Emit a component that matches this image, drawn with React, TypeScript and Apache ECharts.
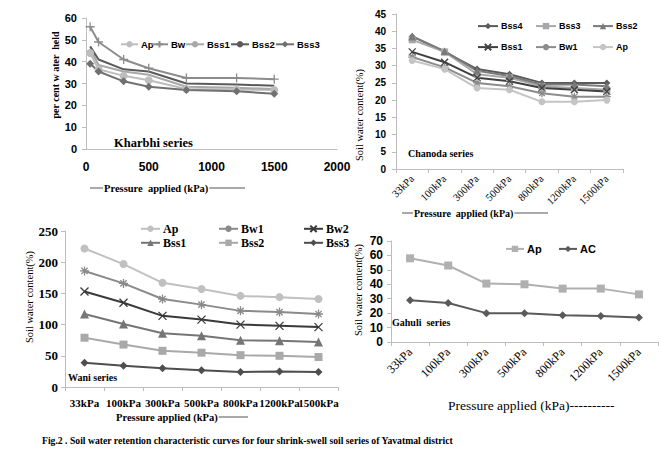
import React, { useEffect, useRef } from 'react';
import * as echarts from 'echarts';

const pressureLabels = ['33kPa', '100kPa', '300kPa', '500kPa', '800kPa', '1200kPa', '1500kPa'];
const kharbhiPressure = [33, 100, 300, 500, 800, 1200, 1500];
const kharbhiTicks = [0, 500, 1000, 1500, 2000];

const kharbhiAp = [44, 36.5, 33.5, 31.5, 27.5, 27.2, 27];
const kharbhiBw = [56, 49, 41, 37, 32.5, 32.5, 32];
const kharbhiBss1 = [46, 38.5, 35.5, 34, 28.5, 28, 27.5];
const kharbhiBss2 = [47, 41, 36.5, 35.5, 30, 29.5, 29];
const kharbhiBss3 = [39, 35.5, 31, 28.5, 27, 26.4, 25.3];

const chanodaBss4 = [38.5, 34, 29, 27.5, 25, 25, 25];
const chanodaBss3 = [37.5, 34, 27.5, 26.5, 24, 23.5, 23];
const chanodaBss2 = [38.5, 34.2, 28.5, 27, 24.5, 24.5, 24];
const chanodaBss1 = [34, 31, 26.5, 25.5, 23.5, 23, 22.5];
const chanodaBw1 = [32.5, 29.5, 25, 24, 22, 21, 21];
const chanodaAp = [31.5, 29, 23.5, 23, 19.5, 19.5, 20];

const waniAp = [222, 197, 167, 157, 146, 144, 141];
const waniBw1 = [186, 166, 141, 132, 122, 120, 117];
const waniBw2 = [153, 135, 114, 108, 100, 98, 96];
const waniBss1 = [117, 101, 86, 82, 75, 74, 72];
const waniBss2 = [79, 68, 58, 55, 51, 50, 48];
const waniBss3 = [39, 34, 30, 27, 24, 25, 24];

const gahuliAp = [58, 53, 40.5, 40, 37, 37, 33];
const gahuliAC = [29, 27, 20, 20, 18.5, 18, 17];

const SERIF = '"Liberation Serif", "Times New Roman", serif';
const SANS = '"Liberation Sans", Arial, sans-serif';
const X_SYM = 'path://M0,0L10,10M10,0L0,10';
const PLUS_SYM = 'path://M5,0L5,10M0,5L10,5';
const STAR_SYM = 'path://M5,0L5,10M0,5L10,5M1.5,1.5L8.5,8.5M8.5,1.5L1.5,8.5';
const AXIS_COLOR = '#bdbdbd';

function mk(name: string, data: any[], color: string, symbol: string, size: number, idx: number) {
  const isPath = symbol.startsWith('path');
  return {
    type: 'line',
    name,
    data,
    xAxisIndex: idx,
    yAxisIndex: idx,
    color,
    symbol,
    symbolSize: size,
    showSymbol: symbol !== 'none',
    lineStyle: { width: 2, color },
    itemStyle: { color, borderColor: color, borderWidth: isPath ? 1.3 : 0 },
    emphasis: { disabled: true },
  };
}

function leg(name: string, left: number, cy: number, font: any, itemWidth: number) {
  const fs = font.fontSize;
  return {
    data: [name],
    left,
    top: cy - fs * 0.6,
    padding: 0,
    itemWidth,
    itemHeight: 8,
    itemGap: 0,
    selectedMode: false,
    textStyle: { color: '#000', ...font, padding: [0, 0, 0, -2] },
  };
}

function vText(text: string, x: number, y: number, font: any) {
  return {
    type: 'text',
    x,
    y,
    rotation: Math.PI / 2,
    style: { text, align: 'center', verticalAlign: 'middle', fill: '#000', ...font },
  };
}

function hText(text: string, x: number, y: number, font: any, extra: any = {}) {
  return {
    type: 'text',
    x,
    y,
    style: { text, align: 'left', verticalAlign: 'middle', fill: '#000', ...font },
    ...extra,
  };
}

function hLine(x1: number, x2: number, y: number) {
  return {
    type: 'line',
    shape: { x1, y1: y, x2, y2: y },
    style: { stroke: '#555', lineWidth: 1.2 },
  };
}

function catAxis(grid: number, label: any) {
  return {
    type: 'category',
    gridIndex: grid,
    data: pressureLabels,
    boundaryGap: true,
    axisLine: { show: true, lineStyle: { color: AXIS_COLOR } },
    axisTick: { show: true, length: 4, lineStyle: { color: AXIS_COLOR } },
    splitLine: { show: false },
    axisLabel: { color: '#000', interval: 0, ...label },
  };
}

function valAxis(grid: number, max: number, interval: number, label: any) {
  return {
    type: 'value',
    gridIndex: grid,
    min: 0,
    max,
    interval,
    axisLine: { show: true, lineStyle: { color: AXIS_COLOR } },
    axisTick: { show: true, length: 4, lineStyle: { color: AXIS_COLOR } },
    splitLine: { show: false },
    axisLabel: { color: '#000', ...label },
  };
}

export default function App() {
  const ref = useRef<HTMLDivElement>(null);
  useEffect(() => {
    if (!ref.current) return;
    const chart = echarts.init(ref.current, null, { renderer: 'svg' });
    const pairs = (arr: number[]) => kharbhiPressure.map((p, i) => [p, arr[i]]);

    const kLeg = { fontFamily: SANS, fontWeight: 'bold', fontSize: 9.5 };
    const cLeg = { fontFamily: SANS, fontWeight: 'bold', fontSize: 9 };
    const wLeg = { fontFamily: SERIF, fontWeight: 'bold', fontSize: 12 };
    const gLeg = { fontFamily: SANS, fontWeight: 'bold', fontSize: 11 };

    const option: any = {
      animation: false,
      backgroundColor: '#fff',
      grid: [
        { left: 86, top: 18, width: 251, height: 131 },
        { left: 396, top: 14, width: 227, height: 155 },
        { left: 65, top: 231, width: 273, height: 156 },
        { left: 391, top: 241, width: 267, height: 101 },
      ],
      xAxis: [
        {
          type: 'value',
          gridIndex: 0,
          min: kharbhiTicks[0],
          max: kharbhiTicks[kharbhiTicks.length - 1],
          interval: 500,
          axisLine: { show: true, onZero: false, lineStyle: { color: AXIS_COLOR } },
          axisTick: { show: false },
          splitLine: { show: false },
          axisLabel: {
            color: '#000', fontFamily: SANS, fontWeight: 'bold', fontSize: 12, margin: 12,
            formatter: (v: number) => String(v),
          },
        },
        catAxis(1, { rotate: 45, fontFamily: SERIF, fontSize: 10.5, margin: 8 }),
        catAxis(2, { fontFamily: SERIF, fontWeight: 'bold', fontSize: 11, margin: 10 }),
        catAxis(3, { rotate: 45, fontFamily: SERIF, fontSize: 12, margin: 8 }),
      ],
      yAxis: [
        valAxis(0, 60, 10, { fontFamily: SANS, fontWeight: 'bold', fontSize: 11, margin: 9 }),
        valAxis(1, 45, 5, { fontFamily: SANS, fontWeight: 'bold', fontSize: 10, margin: 10 }),
        valAxis(2, 250, 50, { fontFamily: SERIF, fontWeight: 'bold', fontSize: 13, margin: 7 }),
        valAxis(3, 70, 10, { fontFamily: SANS, fontWeight: 'bold', fontSize: 12, margin: 8 }),
      ],
      legend: [
        leg('Ap', 120, 45, kLeg, 17),
        leg('Bw', 150, 45, kLeg, 17),
        leg('Bss1', 185, 45, kLeg, 18),
        leg('Bss2', 230, 45, kLeg, 18),
        leg('Bss3', 275, 45, kLeg, 18),

        leg('Bss4 ', 477, 27, cLeg, 20),
        leg('Bss3 ', 535, 27, cLeg, 20),
        leg('Bss2 ', 592, 27, cLeg, 20),
        leg('Bss1 ', 477, 48, cLeg, 20),
        leg('Bw1 ', 535, 48, cLeg, 20),
        leg('Ap ', 592, 48, cLeg, 20),

        leg('Ap  ', 140, 230, wLeg, 19),
        leg('Bw1  ', 218, 230, wLeg, 19),
        leg('Bw2  ', 303, 230, wLeg, 19),
        leg('Bss1  ', 140, 244, wLeg, 19),
        leg('Bss2  ', 218, 244, wLeg, 19),
        leg('Bss3  ', 303, 244, wLeg, 19),

        leg('Ap   ', 505, 250, gLeg, 18),
        leg('AC', 558, 250, gLeg, 18),
      ],
      series: [
        mk('Ap', pairs(kharbhiAp), '#bdbdbd', 'circle', 8, 0),
        mk('Bw', pairs(kharbhiBw), '#8c8c8c', PLUS_SYM, 9, 0),
        mk('Bss1', pairs(kharbhiBss1), '#a8a8a8', 'none', 6, 0),
        mk('Bss2', pairs(kharbhiBss2), '#5a5a5a', 'none', 6, 0),
        mk('Bss3', pairs(kharbhiBss3), '#707070', 'diamond', 8, 0),

        mk('Bss4 ', chanodaBss4, '#5a5a5a', 'diamond', 7, 1),
        mk('Bss3 ', chanodaBss3, '#a8a8a8', 'rect', 7, 1),
        mk('Bss2 ', chanodaBss2, '#7a7a7a', 'triangle', 8, 1),
        mk('Bss1 ', chanodaBss1, '#404040', X_SYM, 7, 1),
        mk('Bw1 ', chanodaBw1, '#8c8c8c', STAR_SYM, 8, 1),
        mk('Ap ', chanodaAp, '#c4c4c4', 'circle', 7, 1),

        mk('Ap  ', waniAp, '#c0c0c0', 'circle', 8, 2),
        mk('Bw1  ', waniBw1, '#8a8a8a', STAR_SYM, 9, 2),
        mk('Bw2  ', waniBw2, '#3a3a3a', X_SYM, 8, 2),
        mk('Bss1  ', waniBss1, '#767676', 'triangle', 9, 2),
        mk('Bss2  ', waniBss2, '#a9a9a9', 'rect', 8, 2),
        mk('Bss3  ', waniBss3, '#4e4e4e', 'diamond', 8, 2),

        mk('Ap   ', gahuliAp, '#b0b0b0', 'rect', 8, 3),
        mk('AC', gahuliAC, '#5a5a5a', 'diamond', 8, 3),
      ],
      graphic: [
        vText('per cent w ater  held', 55, 75, { fontFamily: SERIF, fontWeight: 'bold', fontSize: 10 }),
        hText('Kharbhi series', 114, 143, { fontFamily: SERIF, fontWeight: 'bold', fontSize: 12.5 }),
        hLine(90, 245, 188),
        hText('Pressure  applied (kPa)', 103, 188, { fontFamily: SERIF, fontWeight: 'bold', fontSize: 10.5, backgroundColor: '#fff', padding: [0, 1] }),

        vText('Soil water content(%)', 359, 115, { fontFamily: SERIF, fontSize: 10.5 }),
        hText('Chanoda series', 408, 153, { fontFamily: SERIF, fontWeight: 'bold', fontSize: 10 }),
        hLine(402, 548, 213),
        hText('Pressure  applied (kPa)', 413, 213, { fontFamily: SERIF, fontWeight: 'bold', fontSize: 10, backgroundColor: '#fff', padding: [0, 1] }),

        vText('Soil water content(%)', 29, 297, { fontFamily: SERIF, fontSize: 10.5 }),
        hText('Wani series', 68, 377, { fontFamily: SERIF, fontWeight: 'bold', fontSize: 10 }),
        hLine(200, 248, 417),
        hText('Pressure applied (kPa)', 115, 417, { fontFamily: SERIF, fontWeight: 'bold', fontSize: 10.5, backgroundColor: '#fff', padding: [0, 1] }),

        vText('Soil water content(%)', 358, 290, { fontFamily: SERIF, fontSize: 10.5 }),
        hText('Gahuli  series', 392, 322, { fontFamily: SERIF, fontWeight: 'bold', fontSize: 10 }),
        hText('Pressure applied (kPa)----------', 448, 405, { fontFamily: SERIF, fontSize: 13.5 }),

        hText('Fig.2 . Soil water retention characteristic curves for four shrink-swell soil series of Yavatmal district', 42, 440,
          { fontFamily: SERIF, fontWeight: 'bold', fontSize: 11 }, { scaleX: 0.88 }),
      ],
    };
    chart.setOption(option);
    return () => chart.dispose();
  }, []);
  return (
    <div
      ref={ref}
      style={{ position: 'absolute', left: 0, top: 0, width: 662, height: 472, background: '#fff' }}
    />
  );
}
